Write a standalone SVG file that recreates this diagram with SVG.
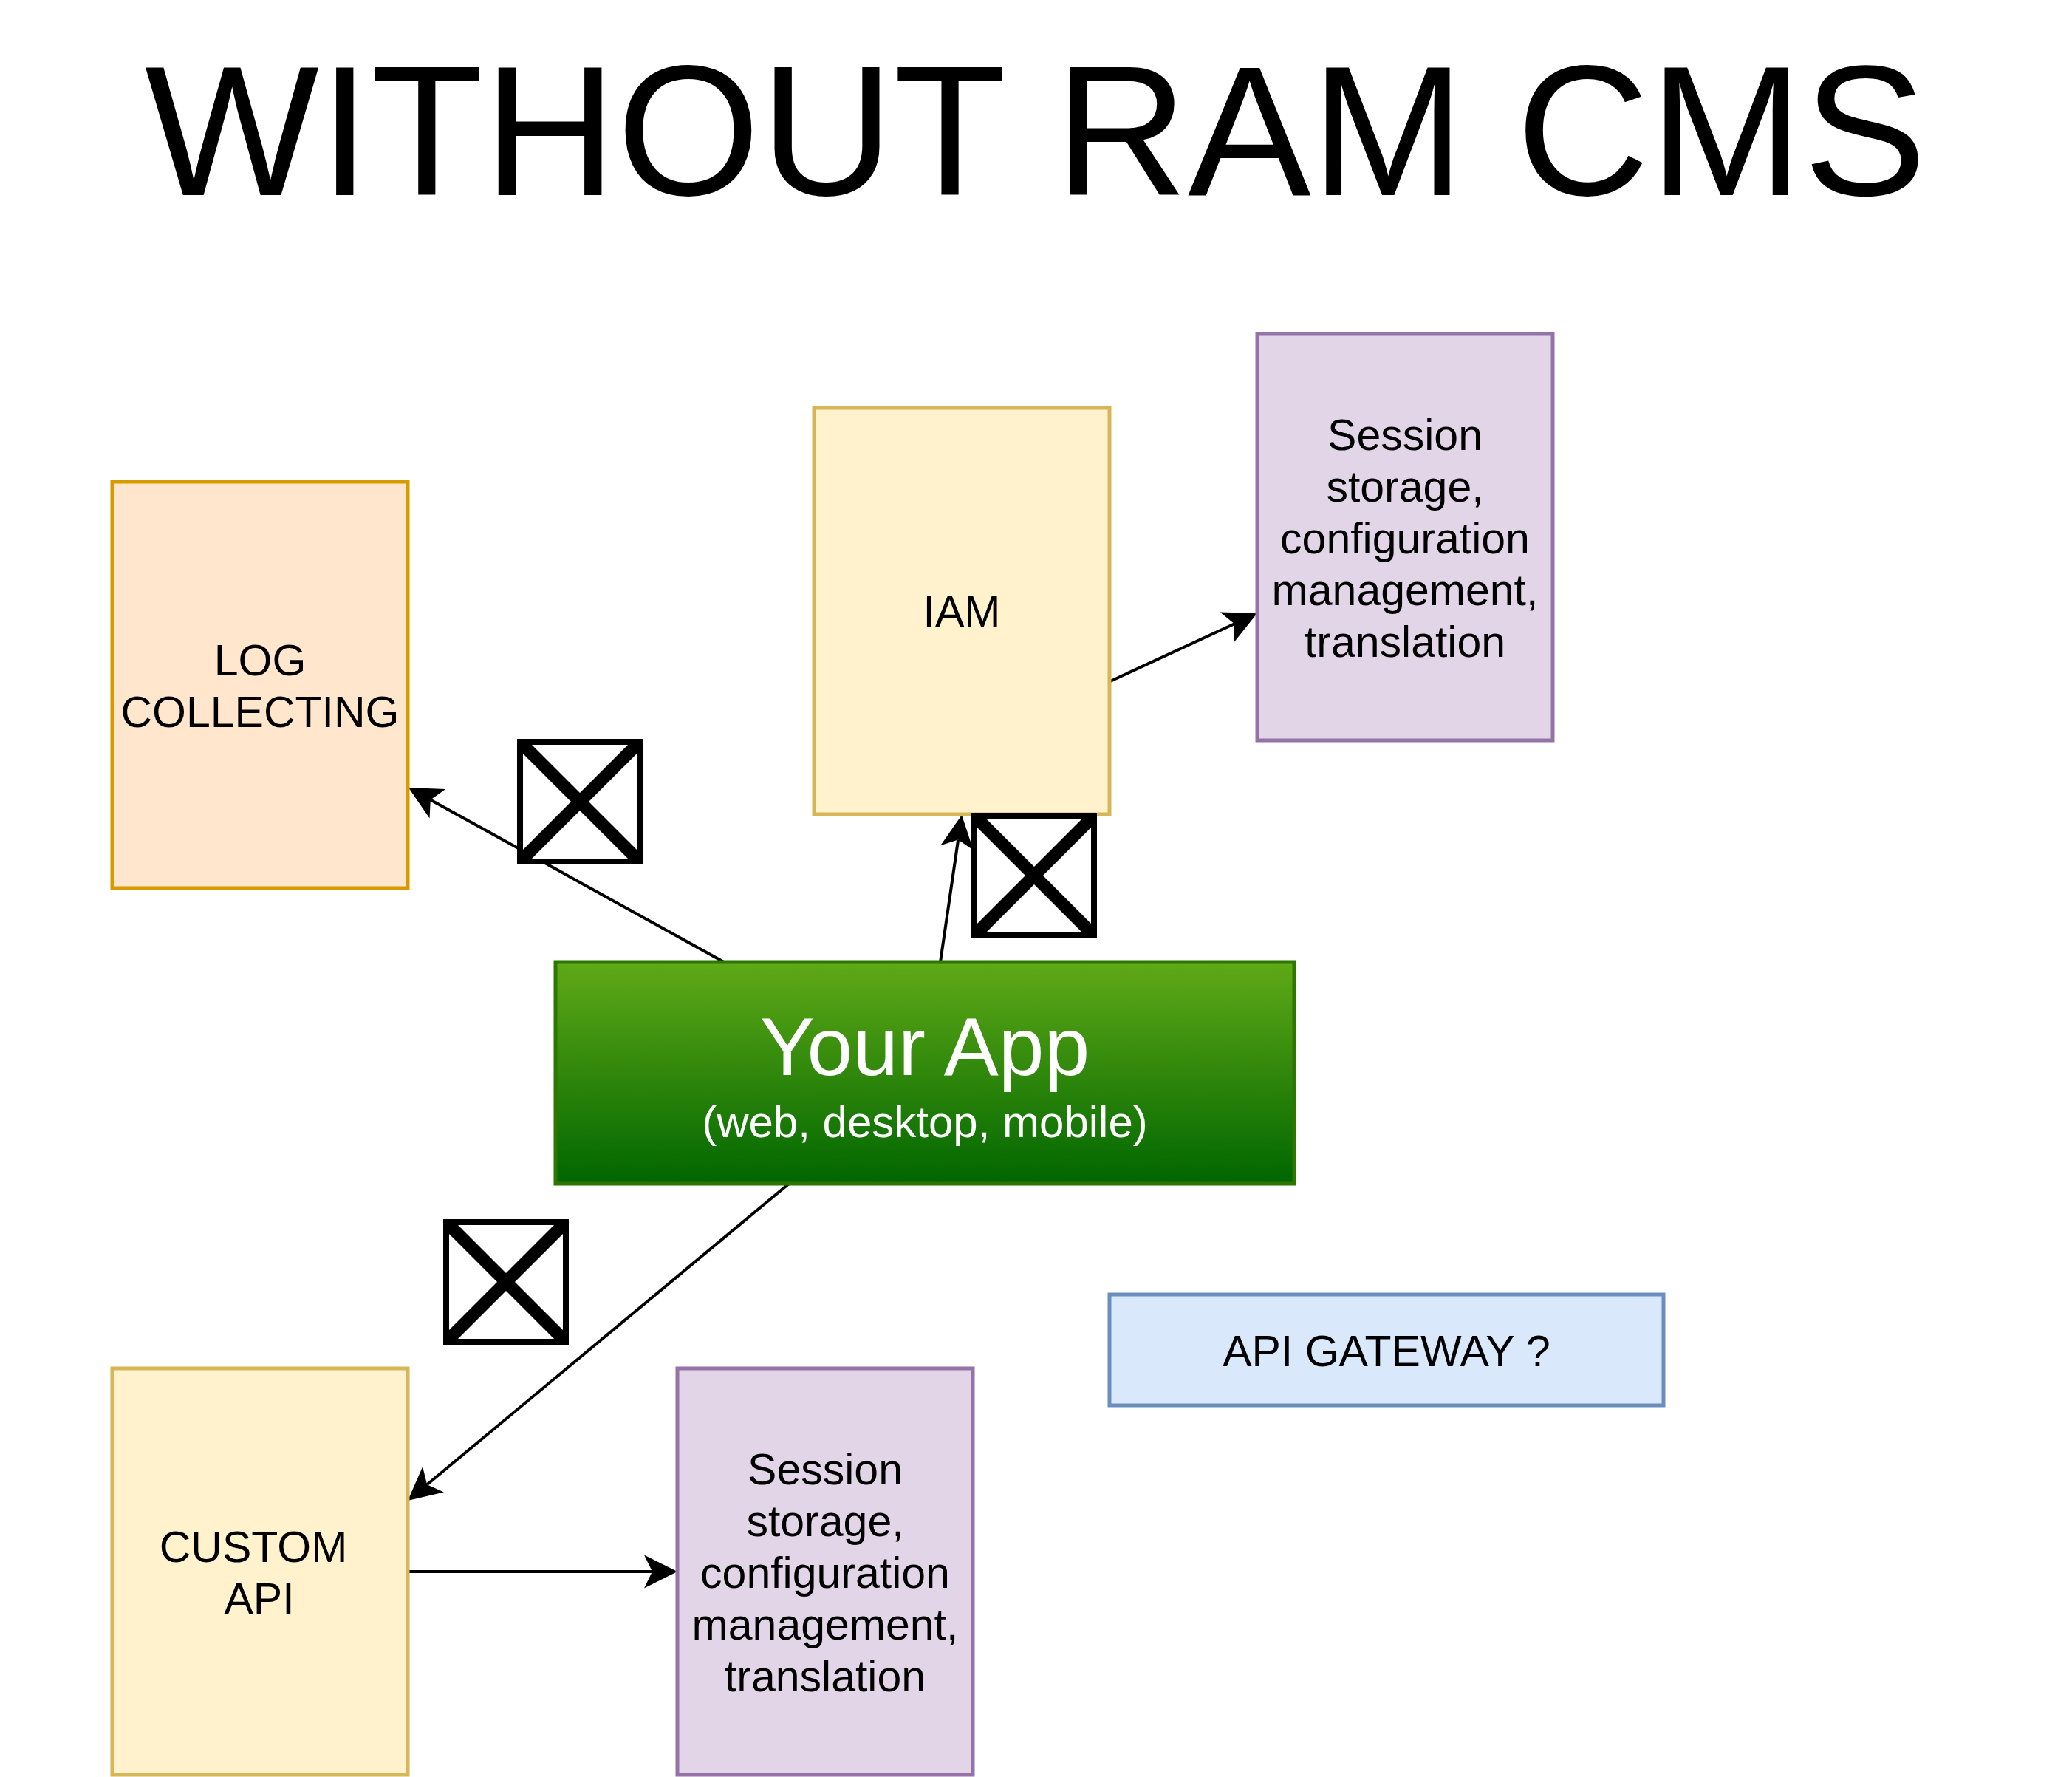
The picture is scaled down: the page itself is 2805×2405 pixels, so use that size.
<svg xmlns="http://www.w3.org/2000/svg" width="2805" height="2405" viewBox="0 0 2805 2405">
  <style>
    text { font-family: "Liberation Sans", Arial, sans-serif; fill: #000000; text-anchor: middle; }
    .lbl { font-size: 59px; }
    .box { stroke-width: 5; }
    .orange { fill: #ffe6cc; stroke: #d79b00; }
    .yellow { fill: #fff2cc; stroke: #d6b656; }
    .purple { fill: #e1d5e7; stroke: #9673a6; }
    .blue { fill: #dae8fc; stroke: #6c8ebf; }
    .xbox .bg { fill: #ffffff; stroke: none; }
    .xbox .bd { fill: none; stroke: #000000; stroke-width: 8; }
    .xbox line { stroke: #000000; stroke-width: 17; }
    .conn { stroke: #000000; stroke-width: 4; fill: none; marker-end: url(#arr); }
  </style>
  <defs>
    <linearGradient id="green" x1="0" y1="0" x2="0" y2="1">
      <stop offset="0" stop-color="#60a917"/>
      <stop offset="1" stop-color="#006600"/>
    </linearGradient>
    <marker id="arr" markerUnits="userSpaceOnUse" orient="auto" markerWidth="60" markerHeight="60" viewBox="-15 -30 60 60" refX="0" refY="0">
      <path d="M34,0 L-11,-22.5 L0,0 L-11,22.5 Z" fill="#000000"/>
    </marker>
  </defs>
  <rect width="2805" height="2405" fill="#ffffff"/>

  <g id="title">
    <text x="1402" y="264" style="font-size:250px">WITHOUT RAM CMS</text>
  </g>

  <g id="connectors">
    <line class="conn" x1="980" y1="1302" x2="582.8" y2="1082.4"/>
    <line class="conn" x1="1273" y1="1302" x2="1297.1" y2="1136.6"/>
    <line class="conn" x1="1503" y1="922" x2="1671.1" y2="844.3"/>
    <line class="conn" x1="1068" y1="1602" x2="578.1" y2="2009.3"/>
    <line class="conn" x1="552" y1="2127" x2="883" y2="2127"/>
  </g>

  <g id="log-collecting">
    <rect class="box orange" x="152" y="652" width="400" height="550"/>
    <text class="lbl" x="352" y="914">LOG</text>
    <text class="lbl" x="352" y="984">COLLECTING</text>
  </g>

  <g id="iam">
    <rect class="box yellow" x="1102" y="552" width="400" height="550"/>
    <text class="lbl" x="1302" y="848">IAM</text>
  </g>

  <g id="session-1">
    <rect class="box purple" x="1702" y="452" width="400" height="550"/>
    <text class="lbl" x="1902" y="609">Session</text>
    <text class="lbl" x="1902" y="679">storage,</text>
    <text class="lbl" x="1902" y="749">configuration</text>
    <text class="lbl" x="1902" y="819">management,</text>
    <text class="lbl" x="1902" y="889">translation</text>
  </g>

  <g id="your-app">
    <rect x="752" y="1302" width="1000" height="300" fill="url(#green)" stroke="#2d7600" stroke-width="5"/>
    <text x="1252" y="1455" style="font-size:111px; fill:#ffffff">Your App</text>
    <text x="1252" y="1539" style="font-size:60px; fill:#ffffff">(web, desktop, mobile)</text>
  </g>

  <g id="custom-api">
    <rect class="box yellow" x="152" y="1852" width="400" height="550"/>
    <text class="lbl" x="343" y="2114">CUSTOM</text>
    <text class="lbl" x="351" y="2184">API</text>
  </g>

  <g id="session-2">
    <rect class="box purple" x="917" y="1852" width="400" height="550"/>
    <text class="lbl" x="1117" y="2009">Session</text>
    <text class="lbl" x="1117" y="2079">storage,</text>
    <text class="lbl" x="1117" y="2149">configuration</text>
    <text class="lbl" x="1117" y="2219">management,</text>
    <text class="lbl" x="1117" y="2289">translation</text>
  </g>

  <g id="api-gateway">
    <rect class="box blue" x="1502" y="1752" width="750" height="150"/>
    <text class="lbl" x="1877" y="1849">API GATEWAY ?</text>
  </g>

  <g id="blocked-1" class="xbox">
    <rect class="bg" x="700" y="1000" width="170" height="170"/>
    <line x1="706" y1="1006" x2="864" y2="1164"/>
    <line x1="864" y1="1006" x2="706" y2="1164"/>
    <rect class="bd" x="704" y="1004" width="162" height="162"/>
  </g>

  <g id="blocked-2" class="xbox">
    <rect class="bg" x="1315" y="1100" width="170" height="170"/>
    <line x1="1321" y1="1106" x2="1479" y2="1264"/>
    <line x1="1479" y1="1106" x2="1321" y2="1264"/>
    <rect class="bd" x="1319" y="1104" width="162" height="162"/>
  </g>

  <g id="blocked-3" class="xbox">
    <rect class="bg" x="600" y="1650" width="170" height="170"/>
    <line x1="606" y1="1656" x2="764" y2="1814"/>
    <line x1="764" y1="1656" x2="606" y2="1814"/>
    <rect class="bd" x="604" y="1654" width="162" height="162"/>
  </g>
</svg>
